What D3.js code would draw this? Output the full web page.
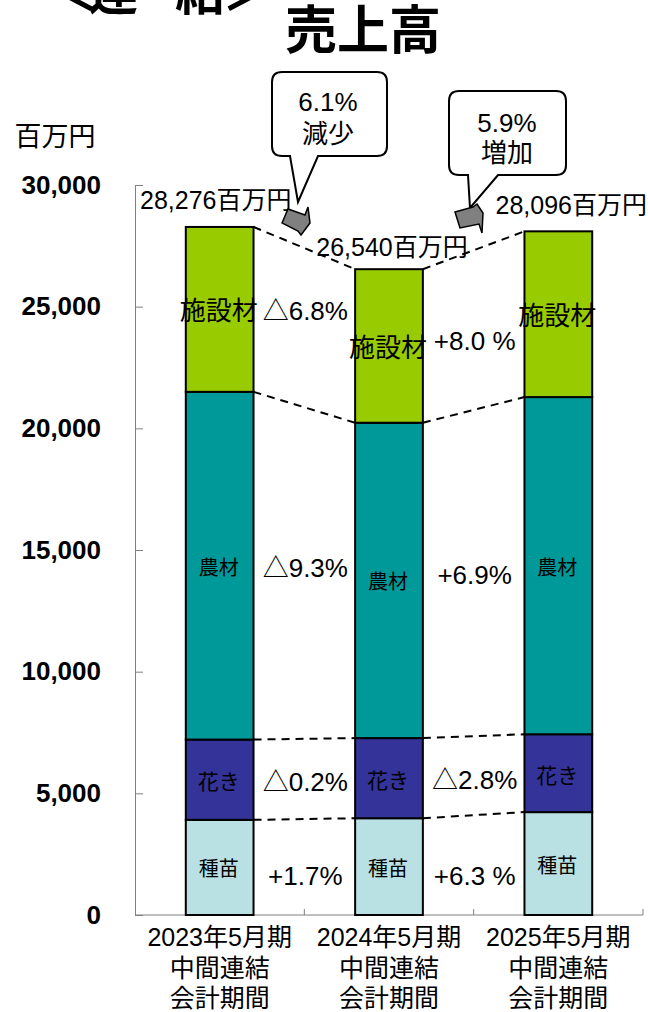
<!DOCTYPE html>
<html>
<head>
<meta charset="utf-8">
<script src="https://cdn.jsdelivr.net/npm/d3@7"></script>
<style>
  body { margin: 0; background: #fff; }
  text { font-family: "Liberation Sans", Arial, "Noto Sans CJK JP", sans-serif; }
</style>
</head>
<body>
<div id="viz"></div>
<script>
// 売上高（百万円）
var periods = ["2023年5月期", "2024年5月期", "2025年5月期"];
var periodLine2 = ["中間連結", "中間連結", "中間連結"];
var periodLine3 = ["会計期間", "会計期間", "会計期間"];
var segments = ["種苗", "花き", "農材", "施設材"];
var seeds      = [3910, 3977, 4228];
var flowers    = [3300, 3293, 3200];
var materials  = [14290, 12960, 13856];
var facilities = [6776, 6310, 6812];
var totalLabels = ["28,276百万円", "26,540百万円", "28,096百万円"];
// 前年同期比（種苗, 花き, 農材, 施設材）
var change2024 = ["+1.7%", "△0.2%", "△9.3%", "△6.8%"];
var change2025 = ["+6.3 %", "△2.8%", "+6.9%", "+8.0 %"];
var totalChange = [["6.1%", "減少"], ["5.9%", "増加"]];
var yTicks = [0, 5000, 10000, 15000, 20000, 25000, 30000];

var width = 648,
    height = 1012;

var colors = {"種苗": "#b9e0e3", "花き": "#333399", "農材": "#009999", "施設材": "#99cc00"};
var labelSize = {"種苗": 20, "花き": 21, "農材": 20, "施設材": 26};

var table = periods.map(function(p, i) {
  return {period: p, "種苗": seeds[i], "花き": flowers[i], "農材": materials[i], "施設材": facilities[i]};
});
var stacked = d3.stack().keys(segments)(table);

var svg = d3.select("#viz")
  .append("svg")
    .attr("width", width)
    .attr("height", height);

var x = d3.scaleBand()
    .domain(periods)
    .range([135, 643])
    .paddingInner(0.6)
    .paddingOuter(0.3);

var y = d3.scaleLinear()
    .domain([0, 30000])
    .range([915, 185]);

// titles
var head = [["＜", 73], ["連", 113], ["結", 200], ["＞", 247]];
svg.selectAll(".head")
  .data(head)
  .enter().append("text")
    .attr("x", function(d) { return d[1]; })
    .attr("y", -7)
    .attr("text-anchor", "middle")
    .attr("dominant-baseline", "central")
    .style("font-size", "50px")
    .style("font-weight", "bold")
    .text(function(d) { return d[0]; });

svg.append("text")
    .attr("x", 363)
    .attr("y", 31)
    .attr("text-anchor", "middle")
    .attr("dominant-baseline", "central")
    .style("font-size", "52px")
    .style("font-weight", "bold")
    .text("売上高");

svg.append("text")
    .attr("x", 55)
    .attr("y", 137)
    .attr("text-anchor", "middle")
    .attr("dominant-baseline", "central")
    .style("font-size", "27px")
    .text("百万円");

// y axis
var yAxis = svg.append("g")
    .attr("transform", "translate(135,0)")
    .call(d3.axisLeft(y).tickValues(yTicks).tickFormat(d3.format(",")).tickSizeInner(-8).tickSizeOuter(0).tickPadding(34));
yAxis.select(".domain").attr("stroke", "#808080");
yAxis.selectAll(".tick line").attr("stroke", "#808080");
yAxis.selectAll(".tick text")
    .attr("fill", "#000")
    .style("font-family", "'Liberation Sans', Arial, sans-serif")
    .style("font-size", "26px")
    .style("font-weight", "bold");

// x axis
svg.append("line")
    .attr("x1", 135).attr("x2", 643)
    .attr("y1", y(0)).attr("y2", y(0))
    .attr("stroke", "#808080");
svg.selectAll(".xtick")
  .data(periods)
  .enter().append("line")
    .attr("x1", function(d) { return x(d) + x.bandwidth() + x.step() * 0.3; })
    .attr("x2", function(d) { return x(d) + x.bandwidth() + x.step() * 0.3; })
    .attr("y1", y(0)).attr("y2", y(0) - 6)
    .attr("stroke", "#808080");

// dashed connectors
var connectors = [];
stacked.forEach(function(layer) {
  for (var i = 0; i < periods.length - 1; i++) {
    connectors.push({x1: x(periods[i]) + x.bandwidth(), y1: y(layer[i][1]),
                     x2: x(periods[i + 1]), y2: y(layer[i + 1][1])});
  }
});
svg.selectAll(".conn")
  .data(connectors)
  .enter().append("line")
    .attr("x1", function(d) { return d.x1; })
    .attr("y1", function(d) { return d.y1; })
    .attr("x2", function(d) { return d.x2; })
    .attr("y2", function(d) { return d.y2; })
    .attr("stroke", "#000")
    .attr("stroke-width", 2)
    .attr("stroke-dasharray", "8,6");

// bars
var layers = svg.selectAll(".layer")
  .data(stacked)
  .enter().append("g")
    .attr("fill", function(d) { return colors[d.key]; });

layers.selectAll("rect")
  .data(function(d) { return d; })
  .enter().append("rect")
    .attr("x", function(d) { return x(d.data.period); })
    .attr("y", function(d) { return y(d[1]); })
    .attr("width", x.bandwidth())
    .attr("height", function(d) { return y(d[0]) - y(d[1]); })
    .attr("stroke", "#000")
    .attr("stroke-width", 2);

// segment names
stacked.forEach(function(layer) {
  svg.selectAll(".seg-" + layer.index)
    .data(layer)
    .enter().append("text")
      .attr("x", function(d) { return x(d.data.period) + x.bandwidth() / 2 - 1; })
      .attr("y", function(d) { return (y(d[0]) + y(d[1])) / 2 + 2; })
      .attr("text-anchor", "middle")
      .attr("dominant-baseline", "central")
      .style("font-size", labelSize[layer.key] + "px")
      .text(layer.key);
});

// change labels between bars
[change2024, change2025].forEach(function(changes, g) {
  svg.selectAll(".chg-" + g)
    .data(changes)
    .enter().append("text")
      .attr("x", (x(periods[g]) + x.bandwidth() + x(periods[g + 1])) / 2 + 1)
      .attr("y", function(d, i) {
        var s = stacked[i][g];
        return (y(s[0]) + y(s[1])) / 2 + 2 + (i === 0 ? 7 : 0) - (g === 1 && i > 1 ? 7 : 0);
      })
      .attr("text-anchor", "middle")
      .attr("dominant-baseline", "central")
      .style("font-size", "26px")
      .text(function(d) { return d; });
});

// totals
var totalPos = [[140, 200, "start"], [392, 247, "middle"], [647, 205, "end"]];
svg.selectAll(".total")
  .data(totalLabels)
  .enter().append("text")
    .attr("x", function(d, i) { return totalPos[i][0]; })
    .attr("y", function(d, i) { return totalPos[i][1]; })
    .attr("text-anchor", function(d, i) { return totalPos[i][2]; })
    .attr("dominant-baseline", "central")
    .style("font-size", "25px")
    .text(function(d) { return d; });

// callouts
var bubbles = [
  "M282,72 H377 Q387,72 387,82 V146 Q387,156 377,156 H318 L298,202 L290,156 H282 Q272,156 272,146 V82 Q272,72 282,72 Z",
  "M459,91 H556 Q566,91 566,101 V165 Q566,175 556,175 H498 L470,208 L468,175 H459 Q449,175 449,165 V101 Q449,91 459,91 Z"
];
svg.selectAll(".bubble")
  .data(bubbles)
  .enter().append("path")
    .attr("d", function(d) { return d; })
    .attr("fill", "#fff")
    .attr("stroke", "#000")
    .attr("stroke-width", 2);

var bubbleText = [[328, 102, 134], [507, 123, 153]];
totalChange.forEach(function(t, i) {
  t.forEach(function(s, j) {
    svg.append("text")
      .attr("x", bubbleText[i][0])
      .attr("y", bubbleText[i][j + 1])
      .attr("text-anchor", "middle")
      .attr("dominant-baseline", "central")
      .style("font-size", "26px")
      .text(s);
  });
});

// grey block arrows
var arrows = [
  [[282,223],[288,209],[305,215],[308,207],[310,223],[301,235],[298,231]],
  [[455,212],[473,207],[477,204],[483,213],[482,233],[479,224],[460,228]]
];
svg.selectAll(".arrow")
  .data(arrows)
  .enter().append("path")
    .attr("d", function(d) { return d3.line()(d) + "Z"; })
    .attr("fill", "#808080")
    .attr("stroke", "#000")
    .attr("stroke-width", 1.5);

// x labels
[periods, periodLine2, periodLine3].forEach(function(lines, k) {
  svg.selectAll(".xl-" + k)
    .data(lines)
    .enter().append("text")
      .attr("x", function(d, i) { return x(periods[i]) + x.bandwidth() / 2; })
      .attr("y", 937 + k * 30.5)
      .attr("text-anchor", "middle")
      .attr("dominant-baseline", "central")
      .style("font-size", "25px")
      .text(function(d) { return d; });
});
</script>
</body>
</html>
